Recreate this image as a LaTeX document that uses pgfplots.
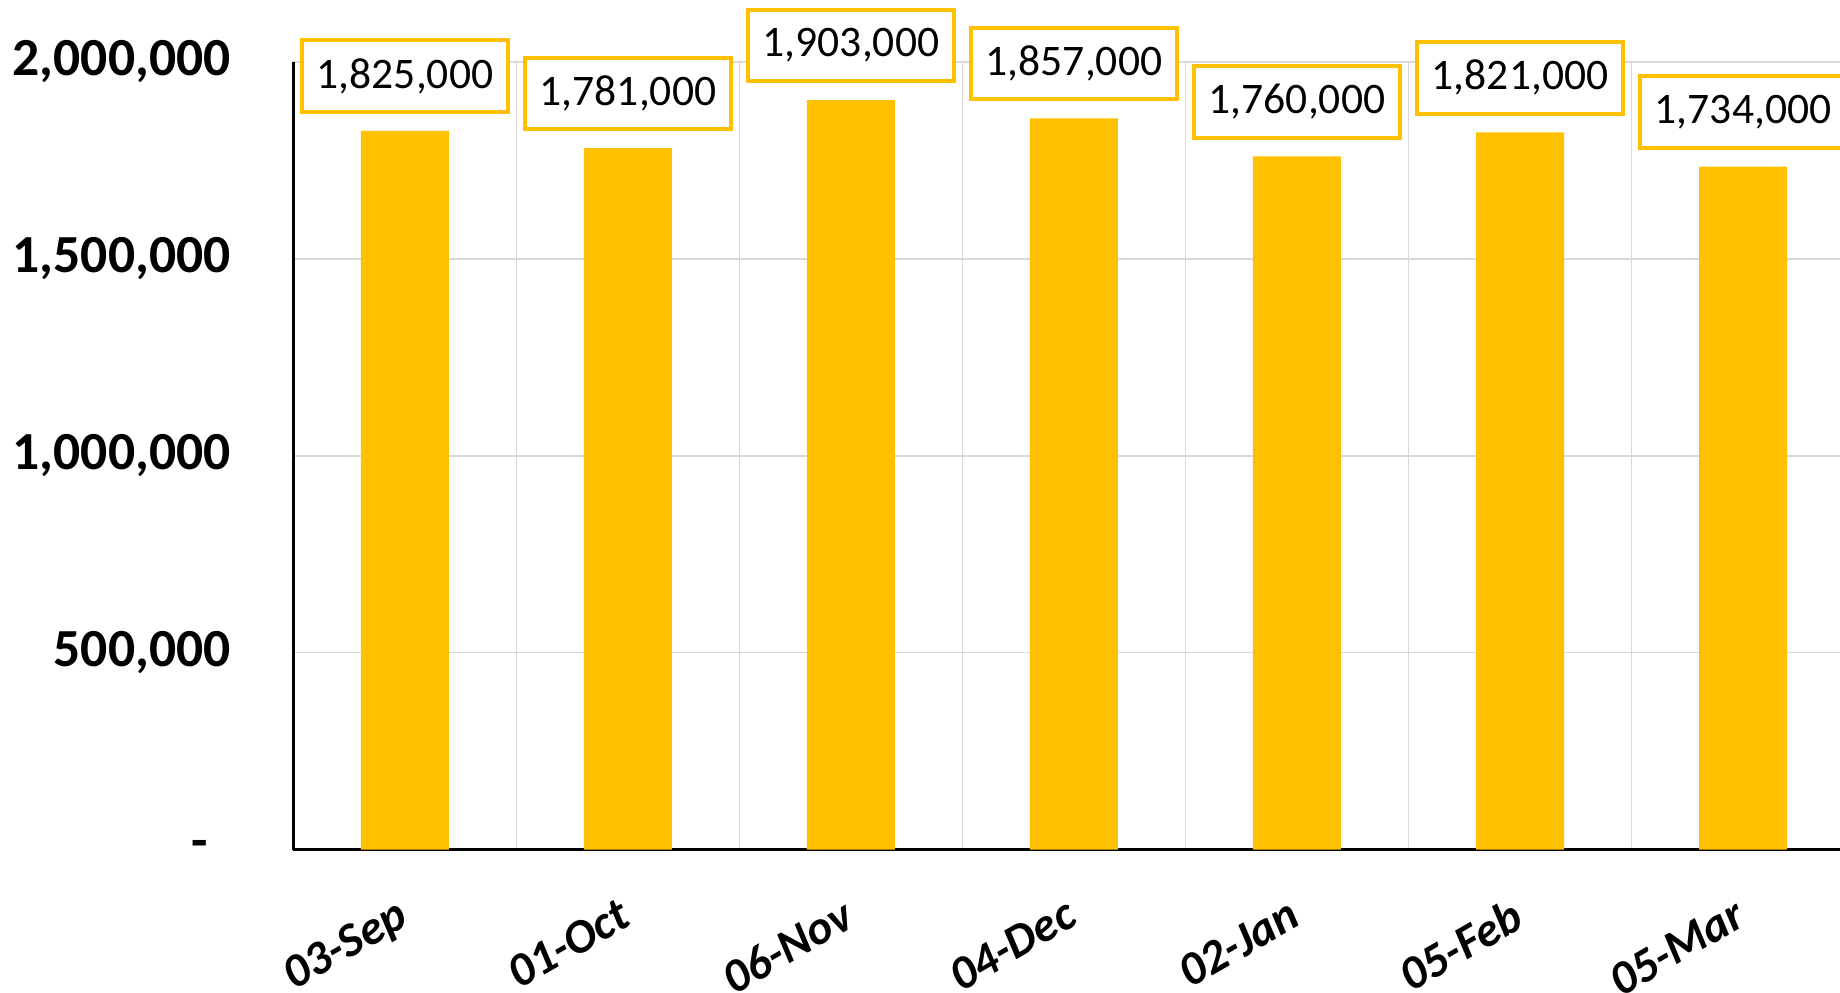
\documentclass[border=0pt]{standalone}
\usepackage{fontspec}
\setmainfont{Carlito}
\usepackage{pgfplots}
\pgfplotsset{compat=1.18}
\definecolor{gold}{HTML}{FFC000}
\definecolor{gridc}{HTML}{D9D9D9}
\begin{document}
\begin{tikzpicture}
\path[use as bounding box] (0,0) rectangle (460pt,248.25pt);
\clip (0,0) rectangle (460pt,248.25pt);
\begin{axis}[
  at={(73.35pt,35.85pt)}, anchor=south west,
  scale only axis, width=386.65pt, height=196.9pt,
  xmin=-0.5, xmax=6.435, ymin=0, ymax=2000000,
  scaled y ticks=false,
  axis x line*=bottom, axis y line*=left,
  axis line style={black, line width=0.9pt},
  ytick={0,500000,1000000,1500000,2000000},
  yticklabels={{-\rule{5.6pt}{0pt}},{500,000},{1,000,000},{1,500,000},{2,000,000}},
  xtick={0,1,2,3,4,5,6},
  xticklabels={03-Sep,01-Oct,06-Nov,04-Dec,02-Jan,05-Feb,05-Mar},
  minor xtick={0.5,1.5,2.5,3.5,4.5,5.5},
  ymajorgrids, xminorgrids,
  major grid style={gridc, line width=0.4pt},
  minor grid style={gridc, line width=0.4pt},
  major tick length=0pt, minor tick length=0pt,
  tick style={draw=none},
  yticklabel style={font=\bfseries\fontsize{13.4}{16}\selectfont, inner xsep=0pt, xshift=-15.5pt},
  xticklabel style={font=\bfseries\itshape\fontsize{11.9}{14}\selectfont, rotate=30, anchor=north east, inner sep=0pt, xshift=-8pt, yshift=-8.8pt},
  clip=false,
]
\addplot[ybar, bar width=22pt, fill=gold, draw=none,
  nodes near coords={\pgfmathprintnumber[fixed,precision=0,1000 sep={,},assume math mode=true]{\pgfplotspointmeta}},
  every node near coord/.append style={draw=gold, line width=1pt, fill=white, text=black,
    font=\fontsize{10.9}{12}\selectfont, minimum width=51.3pt, minimum height=17.9pt,
    inner sep=0pt, anchor=south, yshift=4.2pt}]
coordinates {(0,1825000) (1,1781000) (2,1903000) (3,1857000) (4,1760000) (5,1821000) (6,1734000)};
\end{axis}
\end{tikzpicture}
\end{document}
